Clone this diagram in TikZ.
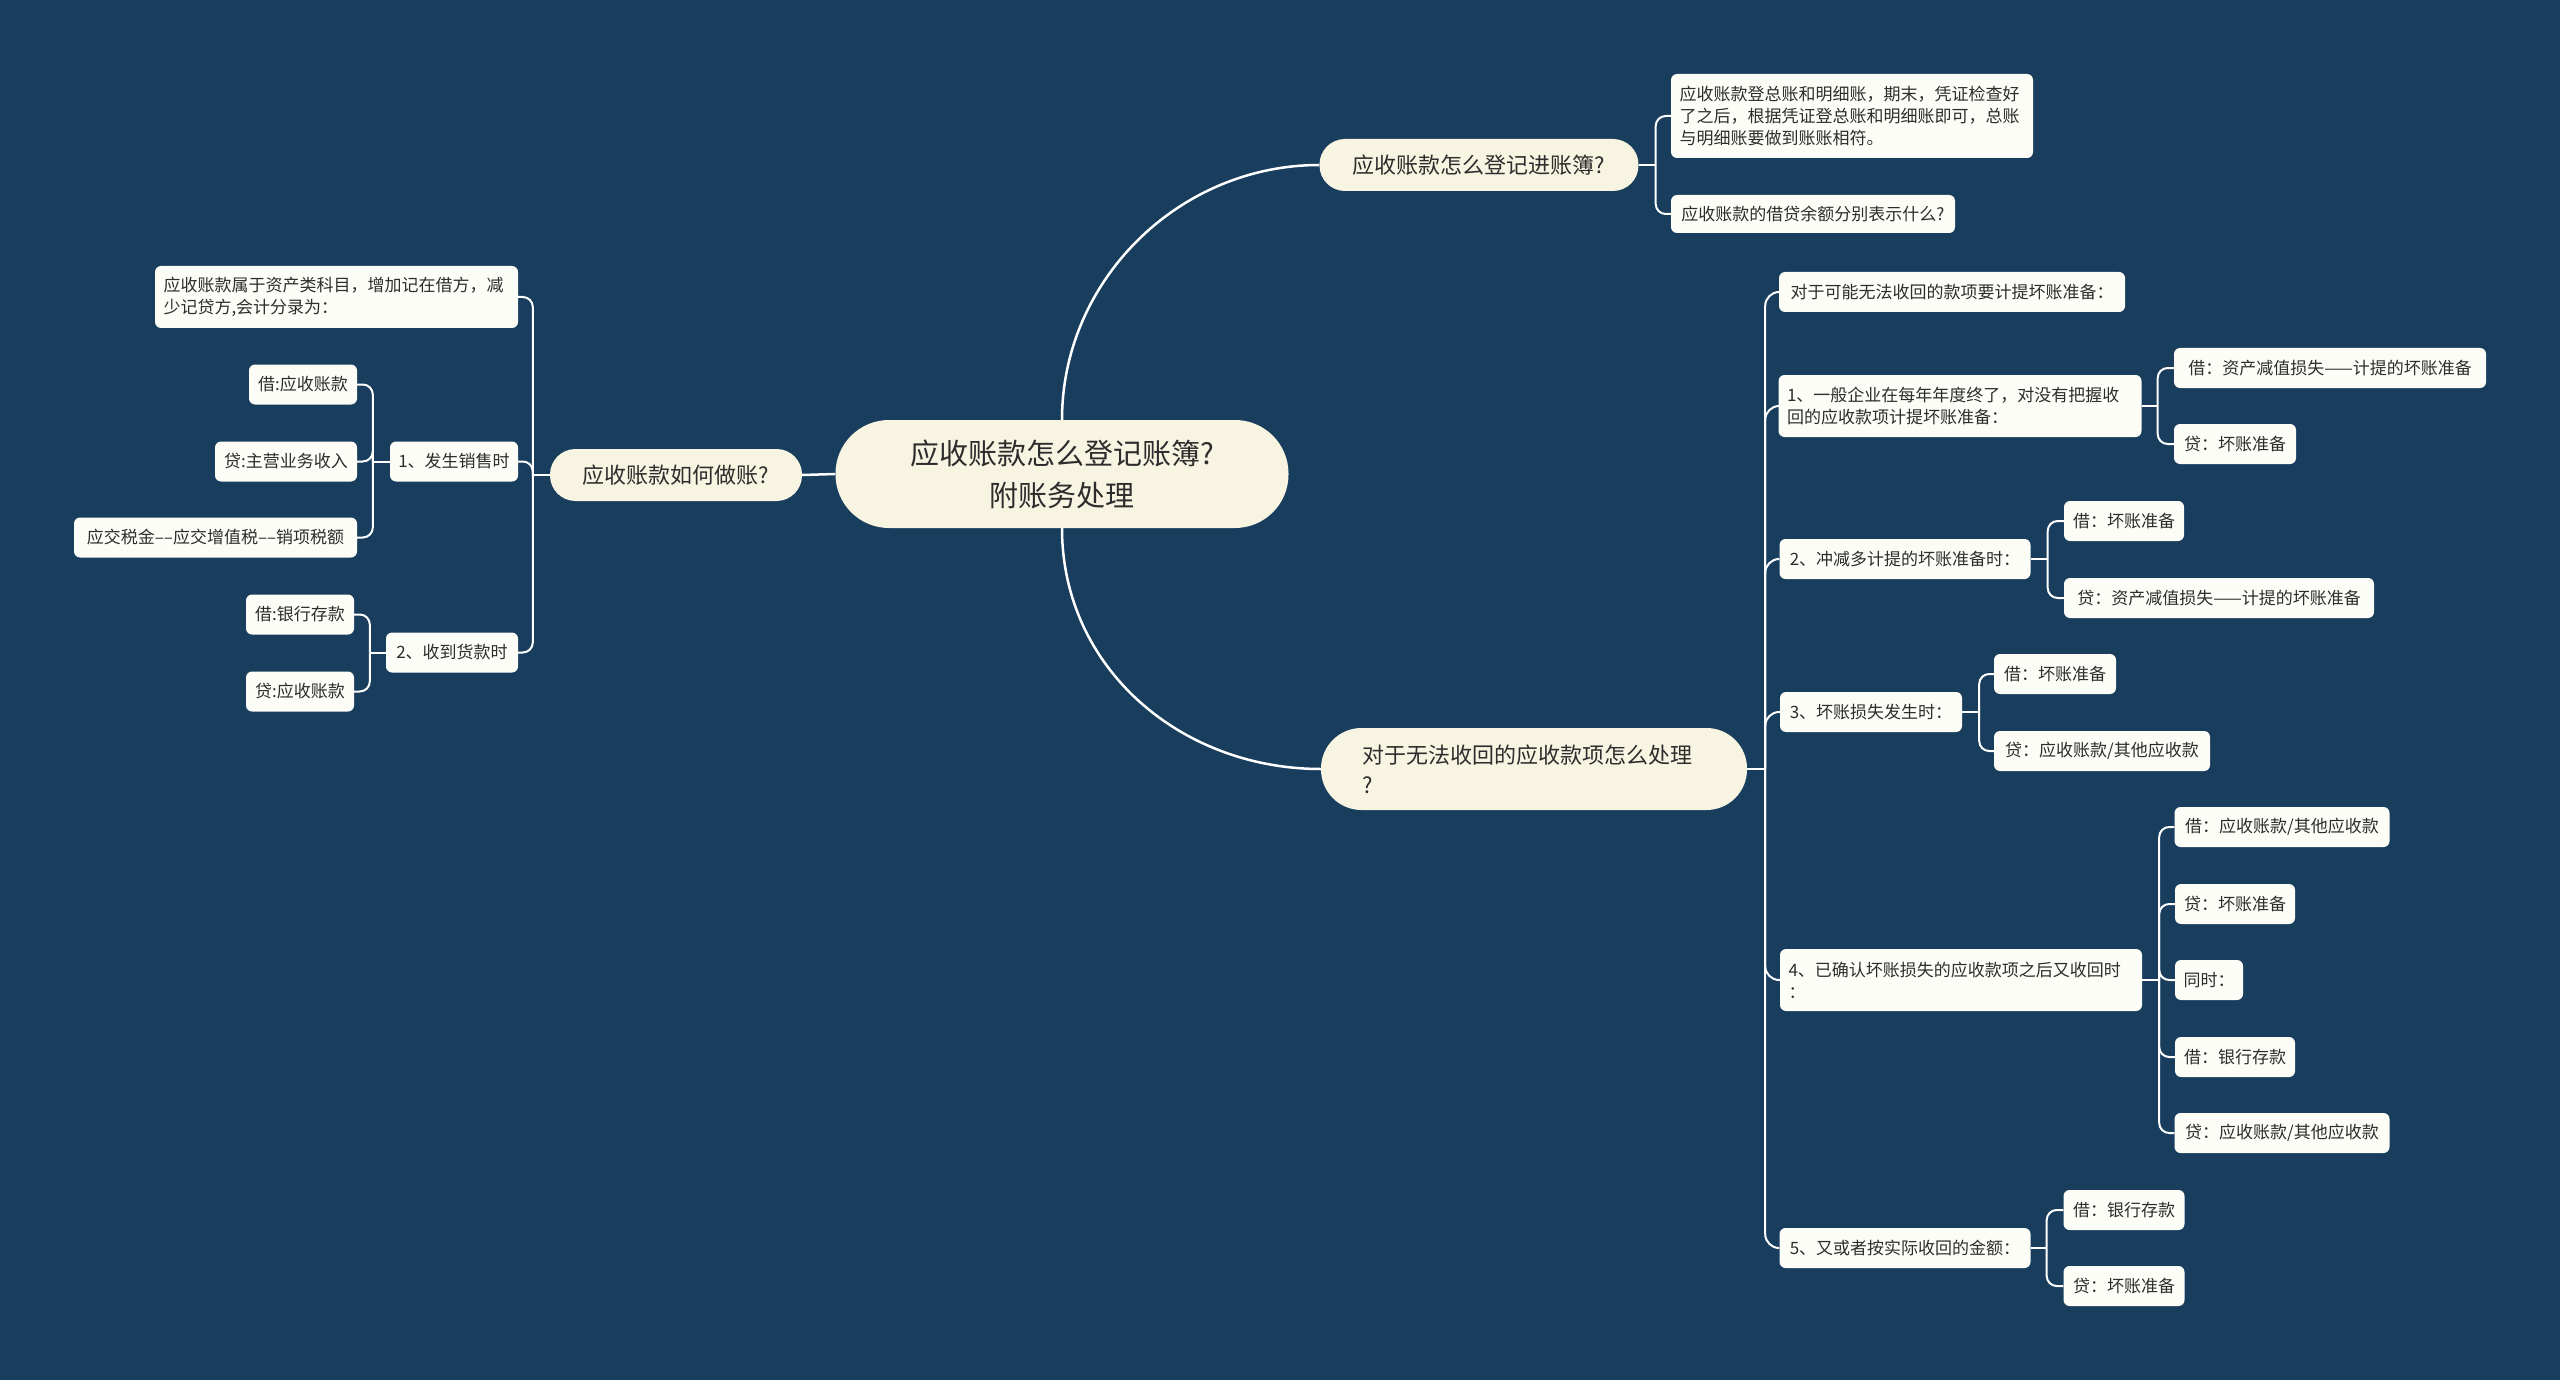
\documentclass[tikz,border=0pt]{standalone}
\usepackage{fontspec}
\setmainfont{Noto Sans CJK SC}
\usetikzlibrary{calc}
\definecolor{bgc}{RGB}{24,61,93}
\definecolor{cream}{RGB}{248,244,226}
\definecolor{leafc}{RGB}{253,253,248}
\definecolor{txt}{RGB}{45,45,45}
\tikzset{
  rootbox/.style={fill=cream, rounded corners=53.5pt, inner sep=0pt, align=center, text=txt, font=\fontsize{29}{42}\selectfont},
  lonebox/.style={fill=cream, rounded corners=25.5pt, inner sep=0pt, minimum height=52pt, text=txt, font=\fontsize{22}{28}\selectfont},
  leafbox/.style={fill=leafc, rounded corners=6pt, inner xsep=2pt, inner ysep=0pt, minimum height=40pt, text=txt, font=\fontsize{17}{22}\selectfont},
  multileaf/.style={leafbox, inner xsep=8.5pt, align=left},
  conn/.style={draw=white, line width=2pt},
  bconn/.style={draw=white, line width=2pt, rounded corners=10pt},
  mainconn/.style={draw=white, line width=2.5pt},
}
\begin{document}
\begin{tikzpicture}[x=1pt,y=-1pt]
\fill[bgc] (0,0) rectangle (2560,1380);
\useasboundingbox (0,0) rectangle (2560,1380);

% root
\node[rootbox, minimum width=453pt, minimum height=108pt] (root) at (1062,474) {应收账款怎么登记账簿?\\附账务处理};

% level 1
\node[lonebox, minimum width=252pt] (L) at (676,475) {应收账款如何做账?};
\node[lonebox, minimum width=319pt] (T) at (1479,165) {应收账款怎么登记进账簿?};
\node[lonebox, minimum height=82pt, rounded corners=40.5pt, inner xsep=41pt, text width=344pt, align=left, font=\fontsize{22}{30}\selectfont] (B) at (1534,769) {对于无法收回的应收款项怎么处理\\?};

% top right leaves
\node[multileaf, minimum height=84pt, text width=345pt] (t1) at (1852,116) {应收账款登总账和明细账，期末，凭证检查好\\了之后，根据凭证登总账和明细账即可，总账\\与明细账要做到账账相符。};
\node[leafbox, minimum width=284pt, minimum height=38pt] (t2) at (1813,214) {应收账款的借贷余额分别表示什么?};

% bottom right children
\node[leafbox, minimum width=346pt] (b0) at (1952,292) {对于可能无法收回的款项要计提坏账准备：};
\node[multileaf, minimum height=62pt, text width=346pt] (b1) at (1960,406) {1、一般企业在每年年度终了，对没有把握收\\回的应收款项计提坏账准备：};
\node[leafbox, minimum width=312pt] (b1a) at (2330,368) {借：资产减值损失——计提的坏账准备};
\node[leafbox, minimum width=122pt] (b1b) at (2235,444) {贷：坏账准备};
\node[leafbox, minimum width=251pt] (b2) at (1905,559) {2、冲减多计提的坏账准备时：};
\node[leafbox, minimum width=120pt] (b2a) at (2124,521) {借：坏账准备};
\node[leafbox, minimum width=310pt] (b2b) at (2219,598) {贷：资产减值损失——计提的坏账准备};
\node[leafbox, minimum width=182pt] (b3) at (1871,712) {3、坏账损失发生时：};
\node[leafbox, minimum width=122pt] (b3a) at (2055,674) {借：坏账准备};
\node[leafbox, minimum width=216pt] (b3b) at (2102,751) {贷：应收账款/其他应收款};
\node[multileaf, minimum height=62pt, text width=345pt] (b4) at (1961,980) {4、已确认坏账损失的应收款项之后又收回时\\：};
\node[leafbox, minimum width=215pt] (b4a) at (2282,827) {借：应收账款/其他应收款};
\node[leafbox, minimum width=120pt] (b4b) at (2235,904) {贷：坏账准备};
\node[leafbox, minimum width=68pt] (b4c) at (2209,980) {同时：};
\node[leafbox, minimum width=120pt] (b4d) at (2235,1057) {借：银行存款};
\node[leafbox, minimum width=215pt] (b4e) at (2282,1133) {贷：应收账款/其他应收款};
\node[leafbox, minimum width=251pt] (b5) at (1905,1248) {5、又或者按实际收回的金额：};
\node[leafbox, minimum width=121pt] (b5a) at (2124,1210) {借：银行存款};
\node[leafbox, minimum width=121pt] (b5b) at (2124,1286) {贷：坏账准备};

% left children
\node[multileaf, minimum height=62pt, text width=346pt] (l0) at (336.5,297) {应收账款属于资产类科目，增加记在借方，减\\少记贷方,会计分录为：};
\node[leafbox, minimum width=128pt] (l1) at (454,461.5) {1、发生销售时};
\node[leafbox, minimum width=108pt] (l1a) at (303,384.5) {借:应收账款};
\node[leafbox, minimum width=142pt] (l1b) at (286,461.5) {贷:主营业务收入};
\node[leafbox, minimum width=283pt] (l1c) at (215.5,537.5) {应交税金–{}–应交增值税–{}–销项税额};
\node[leafbox, minimum width=132pt] (l2) at (452,652.5) {2、收到货款时};
\node[leafbox, minimum width=108pt] (l2a) at (300,614.5) {借:银行存款};
\node[leafbox, minimum width=108pt] (l2b) at (300,691.5) {贷:应收账款};

% main connectors
\draw[mainconn] (root.north) .. controls +(0,-140) and +(-140,0) .. (T.west);
\draw[mainconn] (root.south) .. controls +(0,140) and +(-140,0) .. (B.west);
\draw[mainconn] (root.west) -- (L.east);

% junctions
\coordinate (jT) at ($(T.east)+(17,0)$);
\coordinate (jB) at ($(B.east)+(18,0)$);
\coordinate (jb1) at ($(b1.east)+(16,0)$);
\coordinate (jb2) at ($(b2.east)+(17,0)$);
\coordinate (jb3) at ($(b3.east)+(17,0)$);
\coordinate (jb4) at ($(b4.east)+(17,0)$);
\coordinate (jb5) at ($(b5.east)+(16,0)$);
\coordinate (jL) at ($(L.west)+(-17,0)$);
\coordinate (jl1) at ($(l1.west)+(-17,0)$);
\coordinate (jl2) at ($(l2.west)+(-16,0)$);

\draw[conn] (T.east) -- (jT);
\foreach \c in {t1,t2} \draw[bconn] (jT) |- (\c.west);

\draw[conn] (B.east) -- (jB);
\foreach \c in {b0,b1,b2,b3,b4,b5} \draw[bconn, rounded corners=14pt] (jB) |- (\c.west);

\draw[conn] (b1.east) -- (jb1);
\foreach \c in {b1a,b1b} \draw[bconn] (jb1) |- (\c.west);
\draw[conn] (b2.east) -- (jb2);
\foreach \c in {b2a,b2b} \draw[bconn] (jb2) |- (\c.west);
\draw[conn] (b3.east) -- (jb3);
\foreach \c in {b3a,b3b} \draw[bconn] (jb3) |- (\c.west);
\draw[conn] (b4.east) -- (jb4);
\foreach \c in {b4a,b4b,b4c,b4d,b4e} \draw[bconn] (jb4) |- (\c.west);
\draw[conn] (b5.east) -- (jb5);
\foreach \c in {b5a,b5b} \draw[bconn] (jb5) |- (\c.west);

\draw[conn] (L.west) -- (jL);
\foreach \c in {l0,l1,l2} \draw[bconn] (jL) |- (\c.east);
\draw[conn] (l1.west) -- (jl1);
\foreach \c in {l1a,l1b,l1c} \draw[bconn] (jl1) |- (\c.east);
\draw[conn] (l2.west) -- (jl2);
\foreach \c in {l2a,l2b} \draw[bconn] (jl2) |- (\c.east);
\end{tikzpicture}
\end{document}
